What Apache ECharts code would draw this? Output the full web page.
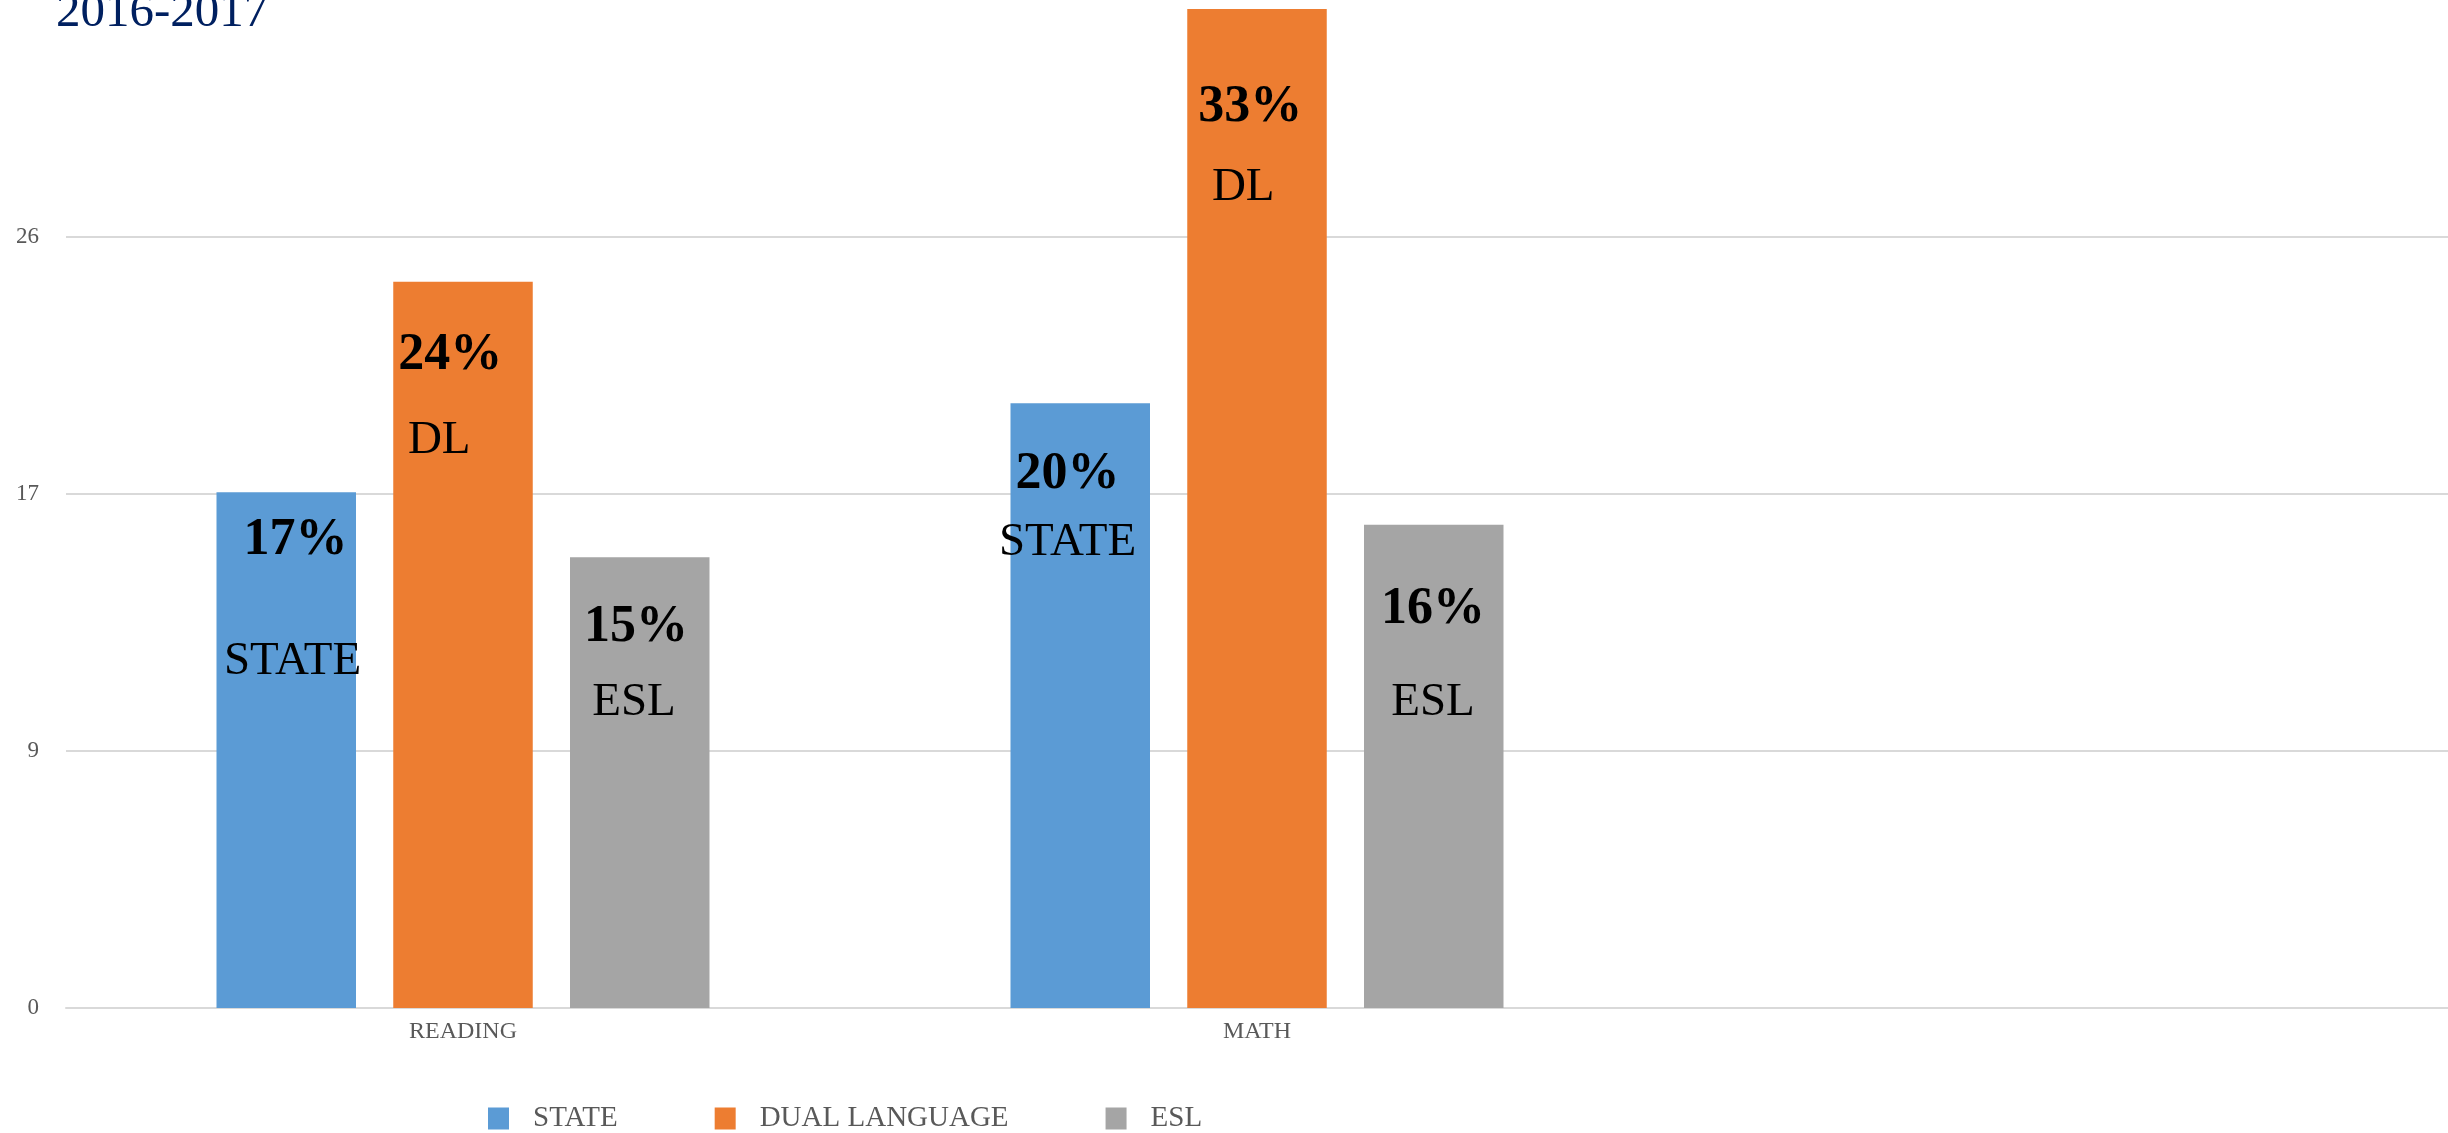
<!DOCTYPE html>
<html>
<head>
<meta charset="utf-8">
<script src="https://cdn.jsdelivr.net/npm/echarts@6/dist/echarts.min.js"></script>
<style>
html,body{margin:0;padding:0;background:#fff;}
#chart{width:2448px;height:1133px;}
</style>
</head>
<body>
<div id="chart"></div>
<script>
// ---- data ----
const titleText = '2016-2017';
const categories = ['READING', 'MATH', ''];
const seriesNames = ['STATE', 'DUAL LANGUAGE', 'ESL'];
const shortNames = ['STATE', 'DL', 'ESL'];
const stateValues = [17.4, 20.4];
const dlValues = [24.5, 33.7];
const eslValues = [15.2, 16.3];
const statePct = ['17%', '20%'];
const dlPct = ['24%', '33%'];
const eslPct = ['15%', '16%'];
const yTickStep = 26 / 3;   // axis ticks shown as 0, 9, 17, 26
const yMax = 34;            // top of the visible plot

// ---- layout / style (not data) ----
const colors = ['#5b9bd5', '#ed7d31', '#a5a5a5'];
const serif = '"Liberation Serif", "Times New Roman", serif';
const labelLayout = [
  [{x: 79, dy: 22, gap: 191, shift: -3}, {x: 57, dy: 45, gap: 84, shift: 0}],
  [{x: 57, dy: 48, gap: 119, shift: -11}, {x: 63, dy: 73, gap: 107, shift: -7}],
  [{x: 66, dy: 44, gap: 99, shift: -2}, {x: 69, dy: 59, gap: 134, shift: 0}]
];

function buildData(values, pcts, name, layout) {
  return values.map((v, i) => {
    const L = layout[i];
    const pad = L.shift > 0 ? [0, 0, 0, 2 * L.shift] : [0, -2 * L.shift, 0, 0];
    return {
      value: v,
      label: {
        show: true,
        position: [L.x, L.dy],
        align: 'center',
        verticalAlign: 'top',
        formatter: '{p|' + pcts[i] + '}\n{n|' + name + '}',
        rich: {
          p: {fontFamily: serif, fontSize: 52, fontWeight: 'bold', color: '#000', lineHeight: 52},
          n: {fontFamily: serif, fontSize: 47, color: '#000', lineHeight: L.gap, padding: pad}
        }
      }
    };
  });
}

const valueSets = [stateValues, dlValues, eslValues];
const pctSets = [statePct, dlPct, eslPct];

const chart = echarts.init(document.getElementById('chart'), null, {renderer: 'canvas'});
const option = {
  animation: false,
  backgroundColor: '#ffffff',
  color: colors,
  graphic: [{
    type: 'text',
    left: 56,
    top: -11,
    style: {text: titleText, font: '49px ' + serif, fill: '#002060'}
  }],
  grid: {left: 66, right: -3, top: 0, bottom: 125, containLabel: false},
  legend: {
    left: 488,
    top: 1104,
    padding: 0,
    itemWidth: 21,
    itemHeight: 22,
    itemGap: 97,
    icon: 'rect',
    data: seriesNames,
    textStyle: {fontFamily: serif, fontSize: 29, color: '#595959', padding: [0, 0, 0, 19]}
  },
  xAxis: {
    type: 'category',
    data: categories,
    axisLine: {lineStyle: {color: '#d9d9d9', width: 2}},
    axisTick: {show: false},
    axisLabel: {fontFamily: serif, fontSize: 24, color: '#595959', margin: 12}
  },
  yAxis: {
    type: 'value',
    min: 0,
    max: yMax,
    interval: yTickStep,
    axisLine: {show: false},
    axisTick: {show: false},
    splitLine: {showMaxLine: false, lineStyle: {color: '#d9d9d9', width: 2}},
    axisLabel: {
      showMaxLabel: false,
      fontFamily: serif, fontSize: 23, color: '#595959', margin: 27,
      formatter: v => (v > 30 ? '' : String(Math.round(v)))
    }
  },
  series: seriesNames.map((nm, s) => ({
    name: nm,
    type: 'bar',
    barWidth: 139.5,
    barGap: '26.7%',
    itemStyle: {color: colors[s]},
    data: buildData(valueSets[s], pctSets[s], shortNames[s], labelLayout[s])
  }))
};
chart.setOption(option);
</script>
</body>
</html>
